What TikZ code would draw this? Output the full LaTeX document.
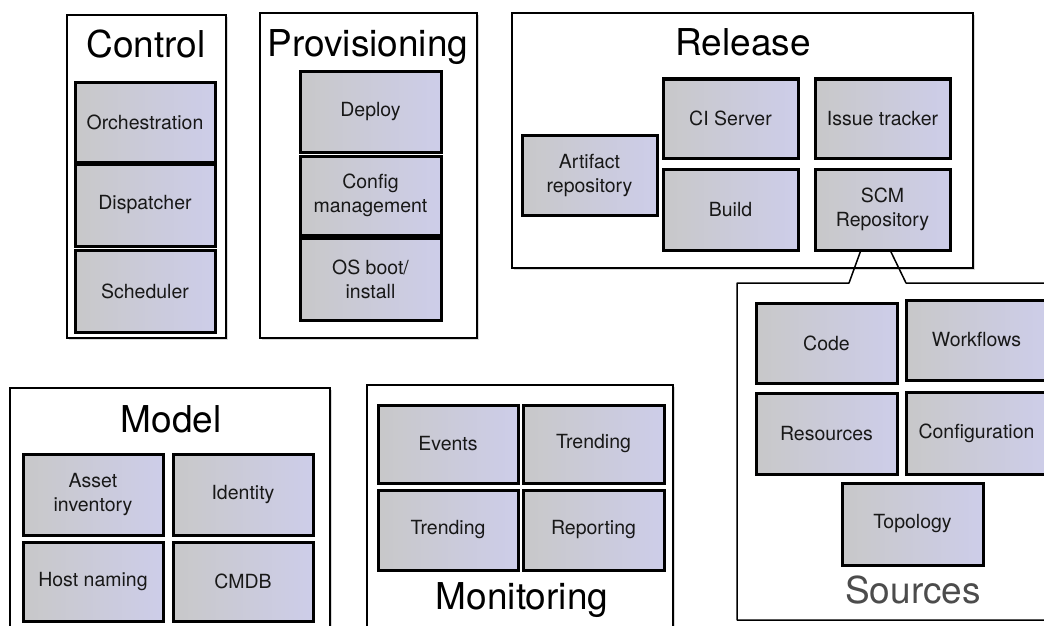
\documentclass[tikz,border=0pt]{standalone}
\usepackage{fontspec}
\setmainfont{TeX Gyre Heros}
\usetikzlibrary{shadows,calc}
\definecolor{boxleft}{RGB}{200,200,201}
\definecolor{boxright}{RGB}{205,205,233}
\definecolor{boxtext}{RGB}{24,24,24}
\tikzset{
  part/.style={draw=black, line width=3pt, left color=boxleft, right color=boxright,
    inner sep=0pt, text=boxtext, align=center, font=\fontsize{19.5}{24}\selectfont,
    drop shadow={shadow xshift=1.5pt, shadow yshift=-2pt, opacity=0.35}},
  group/.style={draw=black, line width=2.8pt, fill=white, inner sep=0pt,
    drop shadow={shadow xshift=1.5pt, shadow yshift=-2pt, opacity=0.3}},
  title/.style={anchor=base, font=\fontsize{37}{40}\selectfont},
}
\begin{document}
\begin{tikzpicture}[x=1pt, y=-1pt]
\useasboundingbox (0,0) rectangle (1044,626);
\clip (0,0) rectangle (1044,626);
% Control
\node[group, minimum width=159pt, minimum height=323pt] (control) at (146.5,176.5) {};
\node[title] (controlT) at (146,58) {Control};
\node[part, minimum width=140pt, minimum height=80pt] (orch) at (145,122) {Orchestration};
\node[part, minimum width=140pt, minimum height=82pt] (disp) at (145,205) {Dispatcher};
\node[part, minimum width=140pt, minimum height=82pt] (sched) at (145,291) {Scheduler};
% Provisioning
\node[group, minimum width=217pt, minimum height=325pt] (prov) at (368.5,175.5) {};
\node[title] (provT) at (368,57) {Provisioning};
\node[part, minimum width=141pt, minimum height=80pt] (deploy) at (370.5,112) {Deploy};
\node[part, minimum width=141pt, minimum height=79pt] (config) at (370.5,195.5) {Config\\management};
\node[part, minimum width=141pt, minimum height=82pt] (osboot) at (370.5,279) {OS boot/\\install};
% Release
\node[group, minimum width=461pt, minimum height=255pt] (release) at (742.5,140.5) {};
\node[title] (releaseT) at (743,56) {Release};
\node[part, minimum width=135pt, minimum height=80pt] (artifact) at (589.5,175) {Artifact\\repository};
\node[part, minimum width=135pt, minimum height=79pt] (ci) at (730.5,118.5) {CI Server};
\node[part, minimum width=135pt, minimum height=81pt] (build) at (730.5,209.5) {Build};
\node[part, minimum width=135pt, minimum height=79pt] (issue) at (882.5,118.5) {Issue tracker};
\node[part, minimum width=135pt, minimum height=81pt] (scm) at (882.5,209.5) {SCM\\Repository};
% Model
\node[group, line width=2pt, minimum width=320pt, minimum height=262pt] (model) at (170,519) {};
\node[title] (modelT) at (171,432) {Model};
\node[part, minimum width=140pt, minimum height=81pt] (asset) at (93,494.5) {Asset\\inventory};
\node[part, minimum width=140pt, minimum height=81pt] (ident) at (243,494.5) {Identity};
\node[part, minimum width=140pt, minimum height=79pt] (hostname) at (93,581.5) {Host naming};
\node[part, minimum width=140pt, minimum height=79pt] (cmdb) at (243,581.5) {CMDB};
% Monitoring
\node[group, line width=2pt, minimum width=306pt, minimum height=265pt] (monitor) at (520,517.5) {};
\node[part, minimum width=140pt, minimum height=78pt] (events) at (448,444) {Events};
\node[part, minimum width=141pt, minimum height=78pt] (trend1) at (593.5,444) {Trending};
\node[part, minimum width=140pt, minimum height=80pt] (trend2) at (448,530) {Trending};
\node[part, minimum width=141pt, minimum height=80pt] (report) at (593.5,530) {Reporting};
\node[title] (monitorT) at (522,609) {Monitoring};
% Sources (callout from SCM)
\coordinate (scmL) at ($(scm.south west)!0.34!(scm.south east)$);
\coordinate (scmR) at ($(scm.south west)!0.56!(scm.south east)$);
\draw[line width=1.5pt, line join=round] (1060,283) -- (906,283) -- (scmR);
\draw[line width=1.5pt, line join=round] (scmL) -- (849,283) -- (737,283) -- (737,620) -- (1060,620);
\node[part, minimum width=141pt, minimum height=80pt] (code) at (826.5,343) {Code};
\node[part, minimum width=141pt, minimum height=80pt] (workflows) at (976.5,340) {Workflows};
\node[part, minimum width=141pt, minimum height=81pt] (resources) at (826.5,433.5) {Resources};
\node[part, minimum width=141pt, minimum height=82pt] (configuration) at (976.5,433) {Configuration};
\node[part, minimum width=141pt, minimum height=82pt] (topology) at (912.5,524) {Topology};
\node[title, text=black!70] (sourcesT) at (913,603) {Sources};
\end{tikzpicture}
\end{document}
